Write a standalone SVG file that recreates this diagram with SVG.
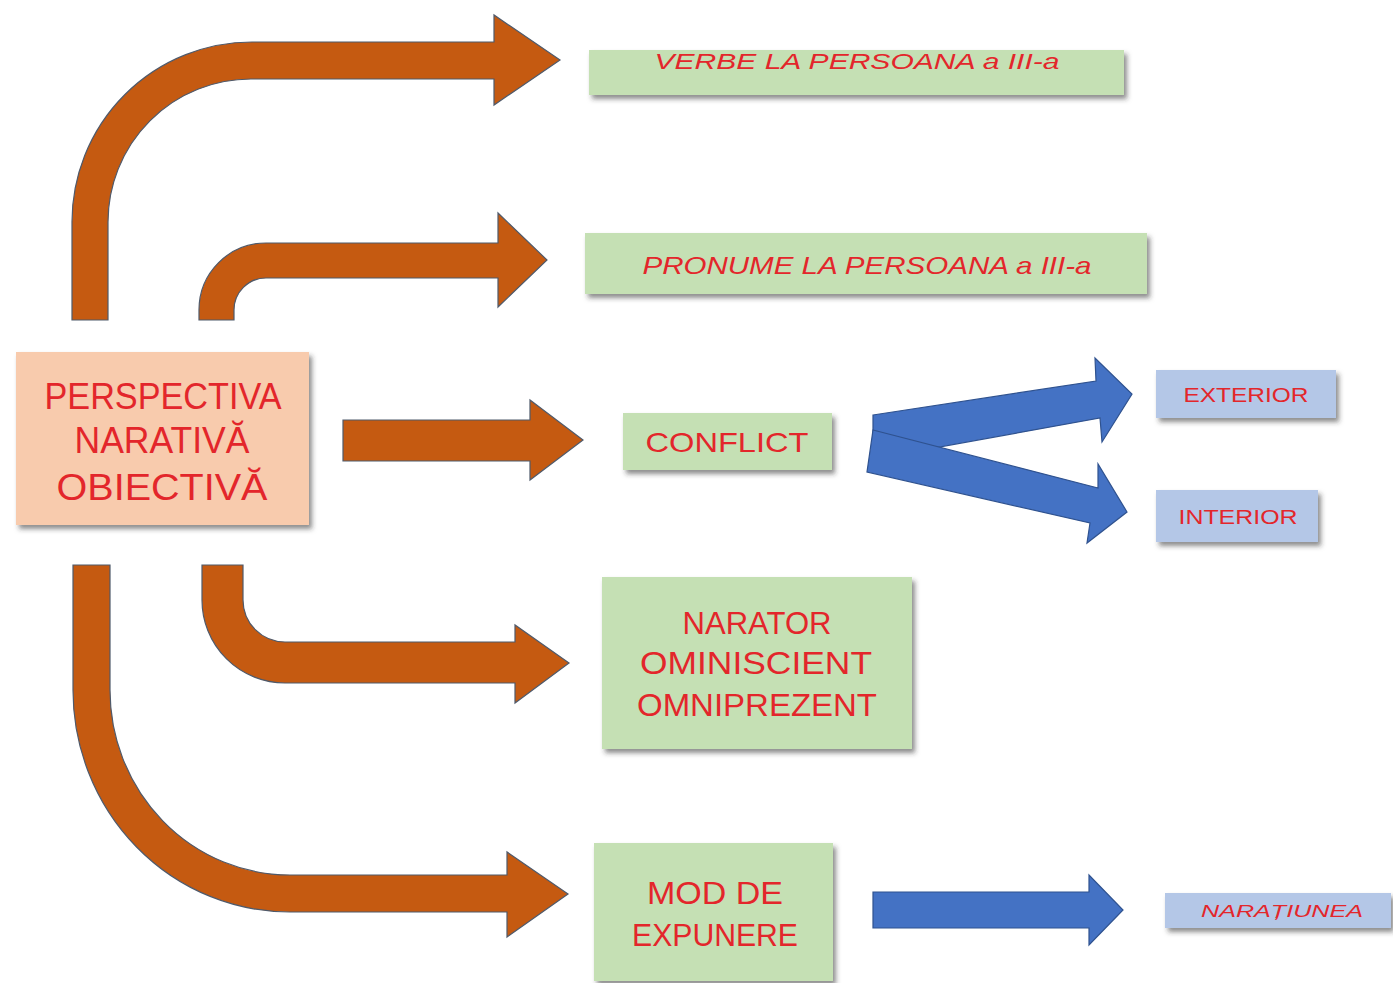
<svg xmlns="http://www.w3.org/2000/svg" width="1393" height="983" viewBox="0 0 1393 983">
<style>
.or{fill:#C55A11;stroke:#4F5A6B;stroke-width:1.2}
.bl{fill:#4472C4;stroke:#2F528F;stroke-width:1.2}
.g{fill:#C5E0B4}
.p{fill:#F8CBAD}
.b{fill:#B4C7E7}
.t{font-family:"Liberation Sans",Arial,sans-serif;fill:#E3262B;text-anchor:middle;dominant-baseline:central}
</style>
<defs>
<filter id="sh" x="-10%" y="-20%" width="130%" height="150%">
<feDropShadow dx="3" dy="4" stdDeviation="2.5" flood-color="#333" flood-opacity="0.55"/>
</filter>
</defs>
<rect width="1393" height="983" fill="#fff"/>
<g id="connectors">
<path class="or" d="M72,320 L72,222 A180,180 0 0 1 252,42 L494,42 L494,15 L560,60 L494,105 L494,79 L251,79 A143,143 0 0 0 108,222 L108,320 Z"/>
<path class="or" d="M199,320 L199,310 A67,67 0 0 1 266,243 L498,243 L498,213 L547,260 L498,307 L498,278 L266,278 A32,32 0 0 0 234,310 L234,320 Z"/>
<path class="or" d="M343,420 L530,420 L530,400 L583,440 L530,480 L530,461 L343,461 Z"/>
<path class="or" d="M202,565 L243,565 L243,600 A42,42 0 0 0 285,642 L515,642 L515,625 L569,663 L515,703 L515,683 L285,683 A83,83 0 0 1 202,600 Z"/>
<path class="or" d="M73,565 L110,565 L110,690 A180,185 0 0 0 290,875 L507,875 L507,852 L568,894 L507,937 L507,912 L290,912 A217,222 0 0 1 73,690 Z"/>
<path class="bl" d="M873,415 L1096,381 L1095,358 L1132,394 L1102,442 L1100,418 L873,459 Z"/>
<path class="bl" d="M873,430 L1098,488 L1098,464 L1127,512 L1087,543 L1090,523 L867,472 Z"/>
<path class="bl" d="M873,892 L1089,892 L1089,875 L1123,910 L1089,945 L1089,928 L873,928 Z"/>
</g>
<g id="n-verbe">
<rect class="g" x="589" y="50" width="535" height="45" filter="url(#sh)"/>
<text class="t" x="857" y="61" font-size="22" font-style="italic" textLength="405" lengthAdjust="spacingAndGlyphs">VERBE LA PERSOANA  a III-a</text>
</g>
<g id="n-pronume">
<rect class="g" x="585" y="233" width="562" height="61" filter="url(#sh)"/>
<text class="t" x="867" y="265" font-size="24" font-style="italic" textLength="449" lengthAdjust="spacingAndGlyphs">PRONUME LA PERSOANA a III-a</text>
</g>
<g id="n-perspectiva">
<rect class="p" x="16" y="352" width="293" height="173" filter="url(#sh)"/>
<text class="t" x="163" y="396" font-size="36" textLength="237" lengthAdjust="spacingAndGlyphs">PERSPECTIVA</text>
<text class="t" x="162" y="440" font-size="36" textLength="175" lengthAdjust="spacingAndGlyphs">NARATIVĂ</text>
<text class="t" x="162" y="487" font-size="36" textLength="211" lengthAdjust="spacingAndGlyphs">OBIECTIVĂ</text>
</g>
<g id="n-conflict">
<rect class="g" x="623" y="413" width="209" height="57" filter="url(#sh)"/>
<text class="t" x="727" y="442" font-size="28" textLength="163" lengthAdjust="spacingAndGlyphs">CONFLICT</text>
</g>
<g id="n-exterior">
<rect class="b" x="1156" y="370" width="180" height="48" filter="url(#sh)"/>
<text class="t" x="1246" y="395" font-size="20" textLength="125" lengthAdjust="spacingAndGlyphs">EXTERIOR</text>
</g>
<g id="n-interior">
<rect class="b" x="1156" y="490" width="162" height="52" filter="url(#sh)"/>
<text class="t" x="1238" y="517" font-size="20" textLength="119" lengthAdjust="spacingAndGlyphs">INTERIOR</text>
</g>
<g id="n-narator">
<rect class="g" x="602" y="577" width="310" height="172" filter="url(#sh)"/>
<text class="t" x="757" y="623" font-size="32" textLength="149" lengthAdjust="spacingAndGlyphs">NARATOR</text>
<text class="t" x="756" y="663" font-size="32" textLength="232" lengthAdjust="spacingAndGlyphs">OMINISCIENT</text>
<text class="t" x="757" y="705" font-size="32" textLength="240" lengthAdjust="spacingAndGlyphs">OMNIPREZENT</text>
</g>
<g id="n-mod">
<rect class="g" x="594" y="843" width="239" height="138" filter="url(#sh)"/>
<text class="t" x="715" y="893" font-size="32" textLength="136" lengthAdjust="spacingAndGlyphs">MOD DE</text>
<text class="t" x="715" y="935" font-size="32" textLength="166" lengthAdjust="spacingAndGlyphs">EXPUNERE</text>
</g>
<g id="n-naratiunea">
<rect class="b" x="1165" y="893" width="226" height="35" filter="url(#sh)"/>
<text class="t" x="1282" y="911" font-size="17" font-style="italic" textLength="162" lengthAdjust="spacingAndGlyphs">NARAȚIUNEA</text>
</g>
</svg>
